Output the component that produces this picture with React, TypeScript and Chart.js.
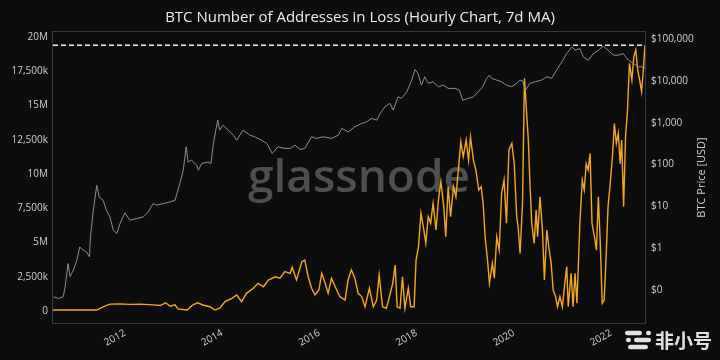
import React, { useEffect, useRef } from "react";
import { Chart, registerables } from "chart.js";

Chart.register(...registerables);

// ---------- text ----------
const TITLE = "BTC Number of Addresses in Loss (Hourly Chart, 7d MA)";
const RIGHT_AXIS_TITLE = "BTC Price [USD]";
const WATERMARK = "glassnode";
const BADGE = "非小号";

// ---------- ticks ----------
const yearTicks = [2012, 2014, 2016, 2018, 2020, 2022];
const lossTicks = [0, 2.5e6, 5e6, 7.5e6, 10e6, 12.5e6, 15e6, 17.5e6, 20e6];
const lossTickLabels = ["0", "2,500k", "5M", "7,500k", "10M", "12,500k", "15M", "17,500k", "20M"];
const priceTicks = [0.1, 1, 10, 100, 1000, 10000, 100000];
const priceTickLabels = ["$0", "$1", "$10", "$100", "$1,000", "$10,000", "$100,000"];

// ---------- axis ranges ----------
const X_MIN = 2010.52;
const X_MAX = 2022.7;
const LOSS_MIN = -0.876e6;
const LOSS_MAX = 20.365e6;
const PRICE_MIN = 0.0163;
const PRICE_MAX = 147000;

// all-time high of addresses in loss (millions) – dashed reference line
const lossATH = 19.4;

// ---------- data: [decimal year, BTC price USD] ----------
const priceSeries: [number, number][] = [
  [2010.53, 0.069], [2010.63, 0.063], [2010.73, 0.069], [2010.77, 0.12], [2010.83, 0.43],
  [2010.87, 0.21], [2010.94, 0.3], [2011.01, 0.52], [2011.07, 1.07], [2011.14, 0.9],
  [2011.21, 0.82], [2011.27, 0.62], [2011.29, 1.86], [2011.35, 8.1], [2011.42, 32],
  [2011.47, 16.8], [2011.55, 14], [2011.62, 8.1], [2011.69, 5.6], [2011.76, 2.7],
  [2011.83, 2.24], [2011.9, 3.9], [2012.0, 7.0], [2012.1, 4.67], [2012.24, 5.1],
  [2012.38, 5.6], [2012.48, 7.4], [2012.58, 11.7], [2012.65, 10.7], [2012.79, 11.7],
  [2012.93, 12.8], [2013.03, 14], [2013.13, 35], [2013.2, 73], [2013.26, 265],
  [2013.3, 115], [2013.37, 127], [2013.48, 95], [2013.51, 73], [2013.58, 106],
  [2013.71, 115], [2013.77, 106], [2013.82, 318], [2013.87, 662], [2013.91, 1150],
  [2013.95, 662], [2014.02, 870], [2014.13, 662], [2014.23, 503], [2014.3, 382],
  [2014.43, 662], [2014.57, 503], [2014.67, 460], [2014.81, 382], [2014.92, 318],
  [2015.03, 184], [2015.15, 265], [2015.29, 242], [2015.4, 242], [2015.5, 290],
  [2015.6, 230], [2015.7, 242], [2015.84, 460], [2015.94, 420], [2016.08, 460],
  [2016.25, 420], [2016.39, 503], [2016.46, 730], [2016.53, 662], [2016.59, 600],
  [2016.73, 795], [2016.87, 960], [2016.97, 1045], [2017.08, 1260], [2017.18, 1150],
  [2017.25, 1650], [2017.35, 2400], [2017.45, 2900], [2017.52, 2000], [2017.62, 4150],
  [2017.69, 3800], [2017.8, 5450], [2017.9, 10400], [2017.97, 18700], [2018.03, 15000],
  [2018.1, 7900], [2018.17, 12500], [2018.24, 8700], [2018.34, 9500], [2018.45, 7200],
  [2018.55, 7900], [2018.65, 6600], [2018.79, 6600], [2018.88, 6000], [2018.95, 3450],
  [2019.06, 3800], [2019.17, 4150], [2019.27, 5450], [2019.36, 7200], [2019.44, 11400],
  [2019.5, 13700], [2019.55, 11400], [2019.65, 10400], [2019.75, 9500], [2019.85, 7900],
  [2019.96, 7200], [2020.06, 8700], [2020.13, 10400], [2020.18, 10000], [2020.24, 6000],
  [2020.33, 8700], [2020.44, 9500], [2020.57, 10400], [2020.68, 12500], [2020.78, 11500],
  [2020.88, 18000], [2020.99, 28400], [2021.09, 45100], [2021.2, 64700], [2021.26, 54000],
  [2021.36, 59000], [2021.43, 37400], [2021.53, 31000], [2021.64, 45100], [2021.74, 54000],
  [2021.84, 67000], [2021.94, 54000], [2022.05, 41000], [2022.15, 41000], [2022.25, 45000],
  [2022.36, 31000], [2022.46, 26000], [2022.56, 21600], [2022.66, 21600], [2022.7, 20000],
];

// ---------- data: [decimal year, addresses in loss (millions)] ----------
const lossSeries: [number, number][] = [
  [2010.52, 0.07], [2011.42, 0.07], [2011.55, 0.3], [2011.69, 0.5], [2011.9, 0.52],
  [2012.1, 0.48], [2012.31, 0.5], [2012.58, 0.45], [2012.72, 0.4], [2012.84, 0.6],
  [2012.93, 0.35], [2013.03, 0.45], [2013.09, 0.15], [2013.28, 0.07], [2013.4, 0.45],
  [2013.5, 0.6], [2013.6, 0.44], [2013.75, 0.31], [2013.85, 0.07], [2013.95, 0.2],
  [2014.06, 0.68], [2014.2, 0.92], [2014.3, 1.17], [2014.4, 0.68], [2014.5, 1.29],
  [2014.64, 1.66], [2014.74, 2.02], [2014.85, 1.77], [2014.95, 2.26], [2015.09, 2.5],
  [2015.19, 2.39], [2015.29, 2.87], [2015.4, 2.75], [2015.44, 3.19], [2015.53, 2.26],
  [2015.64, 3.6], [2015.7, 3.72], [2015.77, 2.5], [2015.84, 1.66], [2015.91, 1.17],
  [2015.99, 1.53], [2016.05, 2.75], [2016.12, 2.02], [2016.18, 1.29], [2016.25, 2.39],
  [2016.34, 1.66], [2016.42, 1.05], [2016.53, 0.8], [2016.59, 2.26], [2016.66, 3.0],
  [2016.73, 2.39], [2016.8, 1.29], [2016.87, 1.05], [2016.94, 0.31], [2017.03, 1.66],
  [2017.11, 0.31], [2017.18, 0.8], [2017.23, 2.63], [2017.3, 0.31], [2017.38, 0.2],
  [2017.45, 1.17], [2017.51, 2.02], [2017.56, 3.36], [2017.6, 0.31], [2017.66, 0.2],
  [2017.71, 2.5], [2017.76, 0.2], [2017.83, 1.66], [2017.88, 0.31], [2017.95, 0.31],
  [2017.99, 3.72], [2018.04, 4.69], [2018.09, 7.13], [2018.14, 6.15], [2018.19, 4.94],
  [2018.24, 6.89], [2018.29, 6.4], [2018.34, 7.86], [2018.4, 5.91], [2018.45, 8.1],
  [2018.5, 9.44], [2018.56, 7.62], [2018.6, 5.42], [2018.65, 9.07], [2018.7, 6.89],
  [2018.76, 9.07], [2018.81, 8.34], [2018.86, 10.3], [2018.91, 12.36], [2018.96, 11.26],
  [2019.02, 12.48], [2019.07, 11.0], [2019.11, 12.68], [2019.17, 11.0], [2019.22, 10.3],
  [2019.28, 8.83], [2019.33, 9.07], [2019.37, 7.86], [2019.41, 5.42], [2019.46, 3.72],
  [2019.5, 2.02], [2019.56, 3.48], [2019.6, 2.39], [2019.65, 5.42], [2019.7, 4.45],
  [2019.75, 8.59], [2019.8, 9.56], [2019.85, 6.4], [2019.9, 11.75], [2019.96, 12.24],
  [2020.01, 10.75], [2020.06, 6.89], [2020.09, 6.15], [2020.13, 4.2], [2020.18, 7.86],
  [2020.22, 16.99], [2020.26, 14.67], [2020.3, 12.48], [2020.33, 9.56], [2020.37, 6.4],
  [2020.42, 4.94], [2020.46, 7.37], [2020.49, 5.42], [2020.54, 8.34], [2020.59, 5.91],
  [2020.63, 2.26], [2020.68, 5.91], [2020.72, 4.69], [2020.77, 3.48], [2020.81, 1.53],
  [2020.86, 1.05], [2020.9, 0.31], [2020.95, 1.05], [2021.0, 0.31], [2021.05, 2.02],
  [2021.09, 3.24], [2021.12, 0.31], [2021.18, 2.75], [2021.22, 0.31], [2021.26, 2.75],
  [2021.3, 0.56], [2021.36, 6.4], [2021.41, 9.56], [2021.45, 8.83], [2021.49, 10.75],
  [2021.53, 10.3], [2021.57, 11.5], [2021.61, 6.4], [2021.66, 5.42], [2021.7, 4.45],
  [2021.74, 8.34], [2021.78, 4.94], [2021.82, 0.56], [2021.86, 0.8], [2021.9, 3.96],
  [2021.94, 7.62], [2021.99, 9.56], [2022.03, 11.26], [2022.07, 13.69], [2022.11, 12.24],
  [2022.15, 12.97], [2022.19, 10.75], [2022.22, 12.48], [2022.26, 7.62], [2022.3, 12.73],
  [2022.34, 14.67], [2022.38, 18.08], [2022.43, 16.86], [2022.47, 18.57], [2022.51, 19.05],
  [2022.55, 17.6], [2022.59, 16.86], [2022.63, 16.0], [2022.67, 17.83], [2022.7, 19.42],
];

// ---------- styles ----------
const FONT = "'Open Sans', 'DejaVu Sans', sans-serif";
const BG = "#0d0d0d";
const TICK_COLOR = "#cfcfcf";
const ORANGE = "#f5a623";
const GREY = "#8e8e8e";
const BORDER = "#3a3a3a";

const backgroundPlugin = {
  id: "bgFill",
  beforeDraw(chart: any) {
    const { ctx, width, height } = chart;
    ctx.save();
    ctx.fillStyle = BG;
    ctx.fillRect(0, 0, width, height);
    ctx.restore();
  },
};

const watermarkPlugin = {
  id: "watermark",
  beforeDatasetsDraw(chart: any) {
    const { ctx, width, height } = chart;
    ctx.save();
    ctx.font = `600 45px ${FONT}`;
    const w = ctx.measureText(WATERMARK).width;
    ctx.translate(width / 2 - 1, height / 2 + 12);
    ctx.scale(222 / w, 1);
    ctx.fillStyle = "#4f4f4f";
    ctx.textAlign = "center";
    ctx.textBaseline = "alphabetic";
    ctx.fillText(WATERMARK, 0, 0);
    ctx.restore();
  },
};

const decorPlugin = {
  id: "decor",
  afterDraw(chart: any) {
    const { ctx, chartArea, width } = chart;
    ctx.save();
    // plot frame
    ctx.strokeStyle = BORDER;
    ctx.lineWidth = 1;
    ctx.strokeRect(
      Math.round(chartArea.left) - 0.5,
      Math.round(chartArea.top) - 0.5,
      Math.round(chartArea.right - chartArea.left) + 1,
      Math.round(chartArea.bottom - chartArea.top) + 1
    );
    // title
    ctx.fillStyle = "#ececec";
    ctx.font = `15px ${FONT}`;
    ctx.textAlign = "center";
    ctx.textBaseline = "middle";
    ctx.fillText(TITLE, width / 2, 18);
    // right axis title
    ctx.save();
    ctx.translate(chartArea.right + 57, (chartArea.top + chartArea.bottom) / 2);
    ctx.rotate(-Math.PI / 2);
    ctx.font = `11px ${FONT}`;
    ctx.fillStyle = TICK_COLOR;
    ctx.textAlign = "center";
    ctx.textBaseline = "middle";
    ctx.fillText(RIGHT_AXIS_TITLE, 0, 0);
    ctx.restore();
    // badge (bottom-right)
    const bx = chartArea.right - 20;
    const by = chartArea.bottom + 17;
    ctx.fillStyle = "#e2e2e2";
    const bar = (x: number, y: number, w: number) => {
      ctx.beginPath();
      ctx.moveTo(x + 2.2, y - 2.2);
      ctx.lineTo(x + w - 2.2, y - 2.2);
      ctx.arc(x + w - 2.2, y, 2.2, -Math.PI / 2, Math.PI / 2);
      ctx.lineTo(x + 2.2, y + 2.2);
      ctx.arc(x + 2.2, y, 2.2, Math.PI / 2, (3 * Math.PI) / 2);
      ctx.fill();
    };
    bar(bx, by - 7, 17);
    bar(bx + 21, by - 7, 5);
    bar(bx + 1, by, 5);
    bar(bx + 9, by, 17);
    bar(bx + 3, by + 7, 20);
    ctx.font = `bold 19px 'Noto Sans CJK SC', sans-serif`;
    ctx.textAlign = "left";
    ctx.textBaseline = "middle";
    ctx.fillText(BADGE, bx + 30, by + 1);
    ctx.restore();
  },
};

export default function App() {
  const canvasRef = useRef<HTMLCanvasElement | null>(null);

  useEffect(() => {
    const canvas = canvasRef.current;
    if (!canvas) return;

    const lossData = lossSeries.map(([x, v]) => ({ x, y: v * 1e6 }));
    const priceData = priceSeries.map(([x, p]) => ({ x, y: p }));
    const athData = [
      { x: X_MIN, y: lossATH * 1e6 },
      { x: X_MAX, y: lossATH * 1e6 },
    ];

    const tickFont = { family: FONT, size: 10 };

    const chart = new Chart(canvas, {
      type: "line",
      data: {
        datasets: [
          {
            label: "ATH",
            data: athData,
            yAxisID: "yL",
            borderColor: "#ededed",
            borderWidth: 1.5,
            borderDash: [5, 3],
            pointRadius: 0,
          },
          {
            label: "BTC Price",
            data: priceData,
            yAxisID: "yR",
            borderColor: GREY,
            borderWidth: 1,
            pointRadius: 0,
          },
          {
            label: "Addresses in Loss",
            data: lossData,
            yAxisID: "yL",
            borderColor: ORANGE,
            borderWidth: 1.4,
            pointRadius: 0,
          },
        ],
      },
      options: {
        responsive: false,
        animation: false,
        devicePixelRatio: 1,
        parsing: true,
        layout: { padding: { top: 32, left: 0, right: 0, bottom: 0 } },
        plugins: {
          legend: { display: false },
          tooltip: { enabled: false },
          title: { display: false },
        },
        elements: { line: { tension: 0 }, point: { radius: 0 } },
        scales: {
          x: {
            type: "linear",
            min: X_MIN,
            max: X_MAX,
            grid: { display: false, drawTicks: false },
            border: { display: false },
            afterBuildTicks: (s: any) => {
              s.ticks = yearTicks.map((v) => ({ value: v }));
            },
            afterFit: (s: any) => {
              s.height = 37;
            },
            ticks: {
              autoSkip: false,
              minRotation: 30,
              maxRotation: 30,
              padding: 4,
              color: TICK_COLOR,
              font: tickFont,
              callback: (v: any) => String(v),
            },
          },
          yL: {
            type: "linear",
            position: "left",
            min: LOSS_MIN,
            max: LOSS_MAX,
            grid: { display: false, drawTicks: false },
            border: { display: false },
            afterBuildTicks: (s: any) => {
              s.ticks = lossTicks.map((v) => ({ value: v }));
            },
            afterFit: (s: any) => {
              s.width = 53;
            },
            ticks: {
              padding: 5,
              color: TICK_COLOR,
              font: tickFont,
              callback: (v: any) => {
                const i = lossTicks.indexOf(Number(v));
                return i >= 0 ? lossTickLabels[i] : "";
              },
            },
          },
          yR: {
            type: "logarithmic",
            position: "right",
            min: PRICE_MIN,
            max: PRICE_MAX,
            grid: { display: false, drawTicks: false },
            border: { display: false },
            afterBuildTicks: (s: any) => {
              s.ticks = priceTicks.map((v) => ({ value: v }));
            },
            afterFit: (s: any) => {
              s.width = 75;
            },
            ticks: {
              padding: 6,
              color: TICK_COLOR,
              font: tickFont,
              callback: (v: any) => {
                const i = priceTicks.indexOf(Number(v));
                return i >= 0 ? priceTickLabels[i] : "";
              },
            },
          },
        },
      },
      plugins: [backgroundPlugin, watermarkPlugin, decorPlugin],
    } as any);

    return () => chart.destroy();
  }, []);

  return (
    <div style={{ position: "fixed", left: 0, top: 0, width: 720, height: 360, background: BG }}>
      <canvas ref={canvasRef} width={720} height={360} style={{ display: "block", width: 720, height: 360 }} />
    </div>
  );
}
